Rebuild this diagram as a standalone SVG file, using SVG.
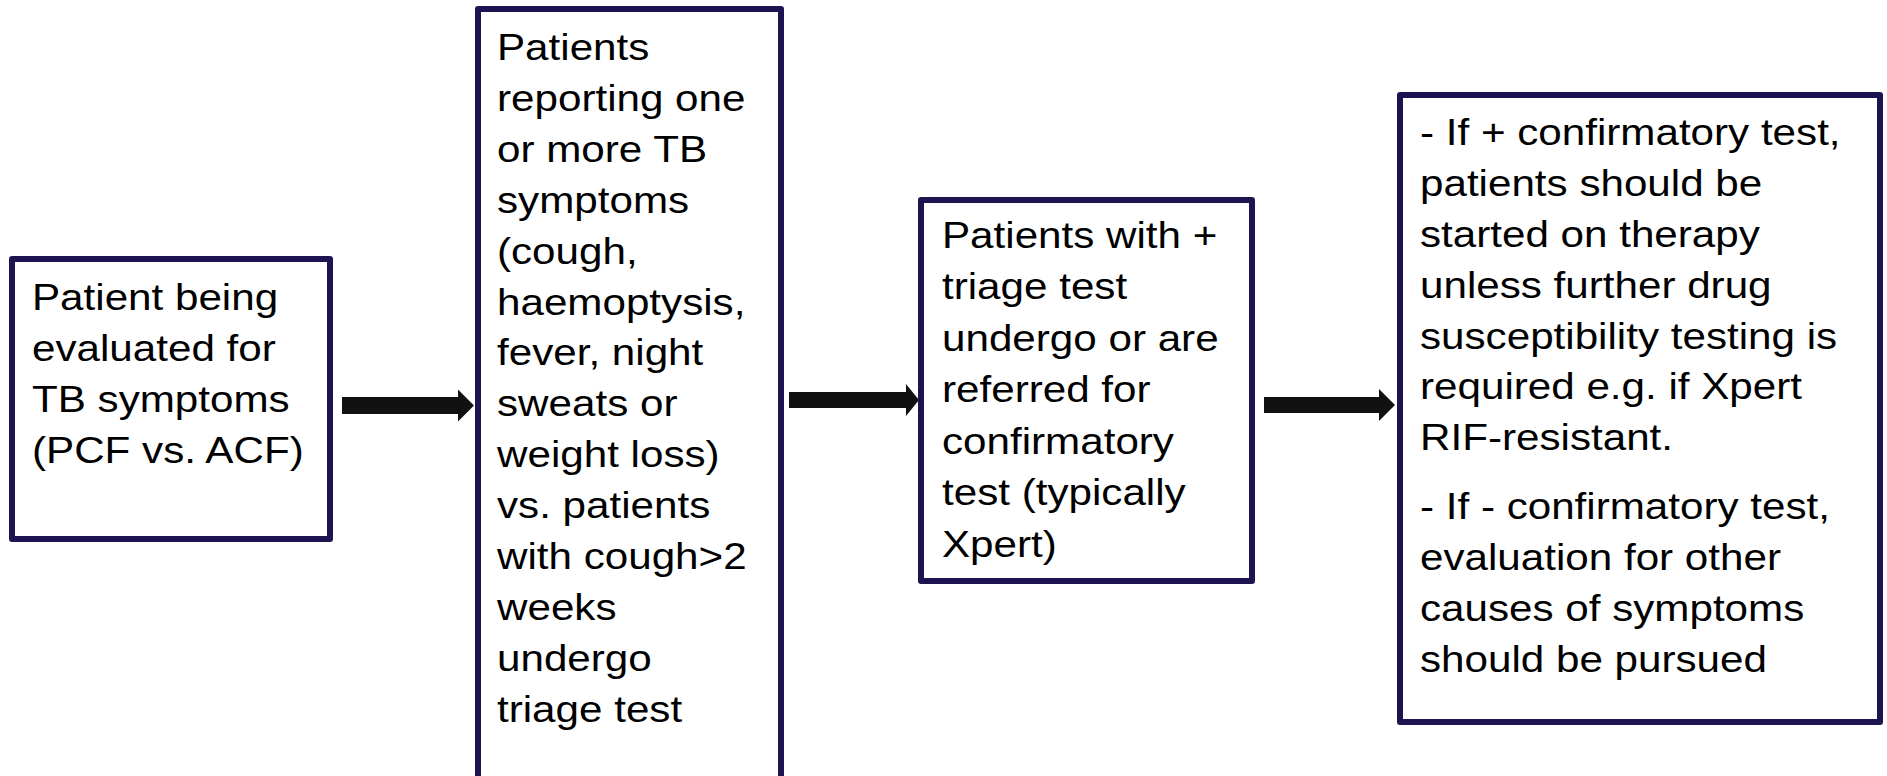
<svg xmlns="http://www.w3.org/2000/svg" width="1887" height="776" viewBox="0 0 1887 776">
  <style>
    .box { fill: #ffffff; stroke: #1d1552; stroke-width: 6; stroke-linejoin: round; }
    .label { font-family: "Liberation Sans", Arial, sans-serif; font-size: 37px; fill: #000000; }
    .arrow { fill: #111111; }
  </style>
  <rect width="1887" height="776" fill="#ffffff"/>

  <g id="connectors">
    <polygon class="arrow" points="342,397 458,397 458,389.5 474,405.5 458,421.5 458,414 342,414"/>
    <polygon class="arrow" points="789,392 906,392 906,384 919,400 906,416 906,408 789,408"/>
    <polygon class="arrow" points="1264,397 1379,397 1379,389 1395,405 1379,421 1379,413 1264,413"/>
  </g>

  <g id="node-evaluation">
    <rect class="box" x="12" y="259" width="318" height="280"/>
    <text class="label" transform="matrix(1.14 0 0 1 32 0)">
      <tspan x="0" y="310">Patient being</tspan>
      <tspan x="0" y="361">evaluated for</tspan>
      <tspan x="0" y="412">TB symptoms</tspan>
      <tspan x="0" y="463">(PCF vs. ACF)</tspan>
    </text>
  </g>

  <g id="node-triage">
    <rect class="box" x="478" y="9" width="303" height="800"/>
    <text class="label" transform="matrix(1.14 0 0 1 497 0)">
      <tspan x="0" y="60">Patients</tspan>
      <tspan x="0" y="111">reporting one</tspan>
      <tspan x="0" y="162">or more TB</tspan>
      <tspan x="0" y="213">symptoms</tspan>
      <tspan x="0" y="264">(cough,</tspan>
      <tspan x="0" y="315">haemoptysis,</tspan>
      <tspan x="0" y="365">fever, night</tspan>
      <tspan x="0" y="416">sweats or</tspan>
      <tspan x="0" y="467">weight loss)</tspan>
      <tspan x="0" y="518">vs. patients</tspan>
      <tspan x="0" y="569">with cough&gt;2</tspan>
      <tspan x="0" y="620">weeks</tspan>
      <tspan x="0" y="671">undergo</tspan>
      <tspan x="0" y="722">triage test</tspan>
    </text>
  </g>

  <g id="node-confirmatory">
    <rect class="box" x="921" y="200" width="331" height="381"/>
    <text class="label" transform="matrix(1.14 0 0 1 942 0)">
      <tspan x="0" y="248">Patients with +</tspan>
      <tspan x="0" y="299.5">triage test</tspan>
      <tspan x="0" y="351">undergo or are</tspan>
      <tspan x="0" y="402.5">referred for</tspan>
      <tspan x="0" y="454">confirmatory</tspan>
      <tspan x="0" y="505.5">test (typically</tspan>
      <tspan x="0" y="557">Xpert)</tspan>
    </text>
  </g>

  <g id="node-outcome">
    <rect class="box" x="1400" y="95" width="480" height="627"/>
    <text class="label" transform="matrix(1.14 0 0 1 1420 0)">
      <tspan x="0" y="145">- If + confirmatory test,</tspan>
      <tspan x="0" y="196">patients should be</tspan>
      <tspan x="0" y="247">started on therapy</tspan>
      <tspan x="0" y="298">unless further drug</tspan>
      <tspan x="0" y="349">susceptibility testing is</tspan>
      <tspan x="0" y="399">required e.g. if Xpert</tspan>
      <tspan x="0" y="450">RIF-resistant.</tspan>
      <tspan x="0" y="519">- If - confirmatory test,</tspan>
      <tspan x="0" y="570">evaluation for other</tspan>
      <tspan x="0" y="621">causes of symptoms</tspan>
      <tspan x="0" y="672">should be pursued</tspan>
    </text>
  </g>
</svg>
